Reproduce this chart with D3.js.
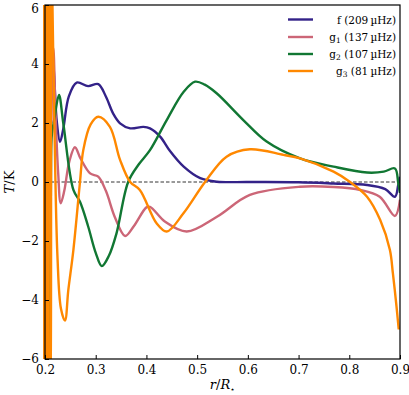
<!DOCTYPE html>
<html><head><meta charset="utf-8">
<script src="https://cdn.jsdelivr.net/npm/d3@7"></script>
<style>body{margin:0;background:#fff} text{font-family:"DejaVu Serif",serif}</style>
</head><body>
<svg id="c" width="409" height="395"></svg>
<script>
const xTicks = [0.2,0.3,0.4,0.5,0.6,0.7,0.8,0.9];
const yTicks = [-6,-4,-2,0,2,4,6];
const seriesNames = ["f", "g1", "g2", "g3"];
const seriesFreq = ["209", "137", "107", "81"];
const seriesColors = ["#332288", "#CC6677", "#117733", "#FF8800"];

const fR = [0.212,0.218,0.2235,0.2296,0.236,0.247,0.2625,0.285,0.305,0.32,0.335,0.348,0.368,0.394,0.407,0.427,0.4465,0.4735,0.506,0.539,0.6,0.7,0.769,0.835,0.871,0.89,0.8965,0.9];
const fT = [5.2,3.6,2.0,1.36,1.8,2.9,3.37,3.25,3.32,2.9,2.3,1.99,1.82,1.87,1.82,1.54,1.05,0.52,0.13,0.01,0.0,-0.01,-0.05,-0.1,-0.24,-0.5,-0.1,0.18];

const g1R = [0.2125,0.2165,0.221,0.226,0.231,0.238,0.248,0.259,0.27,0.289,0.305,0.32,0.338,0.358,0.375,0.4,0.407,0.437,0.4795,0.539,0.604,0.703,0.769,0.822,0.86,0.89,0.9];
const g1T = [2.0,4.54,2.2,0.3,-0.72,-0.3,0.7,1.18,0.8,0.29,0.18,-0.3,-1.2,-1.83,-1.5,-0.86,-0.84,-1.35,-1.68,-1.18,-0.44,-0.16,-0.17,-0.27,-0.5,-1.15,-0.6];

const g2R = [0.2055,0.2085,0.2095,0.2105,0.2115,0.2125,0.2135,0.219,0.2276,0.236,0.256,0.269,0.285,0.3,0.312,0.326,0.341,0.364,0.385,0.407,0.44,0.4735,0.496,0.515,0.539,0.591,0.637,0.703,0.769,0.835,0.868,0.89,0.8965,0.9];
const g2T = [-9,-4.5,-4.4,-3,-0.5,1.3,1.6,2.2,2.95,2.0,-0.27,-0.67,-1.5,-2.4,-2.85,-2.5,-1.74,0.0,0.6,1.08,2.1,3.06,3.4,3.3,3.0,2.1,1.37,0.8,0.52,0.32,0.35,0.46,-0.03,-0.37];

const g3R = [0.1975,0.198,0.1985,0.199,0.1995,0.2,0.2005,0.201,0.2015,0.202,0.2025,0.203,0.2035,0.204,0.2045,0.205,0.2055,0.206,0.2065,0.207,0.2075,0.208,0.2085,0.2115,0.2145,0.2185,0.2245,0.2315,0.2394,0.246,0.256,0.269,0.2755,0.29,0.305,0.328,0.348,0.368,0.387,0.42,0.44,0.473,0.5156,0.558,0.604,0.67,0.703,0.769,0.8016,0.835,0.861,0.88,0.886,0.893,0.8975];
const g3T = [9,-9,9,-9,9,-9,9,-9,9,-9,9,-9,9,-9,9,-9,9,-9,9,-9,9,-9,-9,9,6.2,2.0,-2.5,-4.3,-4.7,-3.66,-2.3,0.0,1.08,1.95,2.21,1.87,0.75,0.0,-0.27,-1.4,-1.68,-1.06,0.0,0.86,1.11,0.92,0.8,0.35,0.0,-0.5,-1.29,-2.3,-3.1,-4.2,-5.0];

const seriesR = [fR, g1R, g2R, g3R];
const seriesT = [fT, g1T, g2T, g3T];

const W = 409, H = 395;
const m = {l:45, r:9, t:5, b:36};
const svg = d3.select("#c");
const x = d3.scaleLinear().domain([0.2,0.9]).range([m.l, W - m.r]);
const y = d3.scaleLinear().domain([-6,6]).range([H - m.b, m.t]);
const font = "DejaVu Serif, serif";

svg.append("defs").append("clipPath").attr("id","clip")
  .append("rect").attr("x", m.l - 2).attr("y", m.t).attr("width", W-m.l-m.r+2).attr("height", H-m.t-m.b);

svg.append("line").attr("x1", x(0.2)).attr("x2", x(0.9)).attr("y1", y(0)).attr("y2", y(0))
  .attr("stroke","#000").attr("stroke-width",0.8).attr("stroke-dasharray","3.5,2");

const line = d3.line().curve(d3.curveCatmullRom.alpha(0.5));
const g = svg.append("g").attr("clip-path","url(#clip)");
seriesNames.forEach((n,i) => {
  const pts = seriesR[i].map((r,j) => [x(r), y(seriesT[i][j])]);
  g.append("path").attr("d", line(pts)).attr("fill","none")
    .attr("stroke", seriesColors[i]).attr("stroke-width", 2.4).attr("stroke-linejoin","round");
});

const xa = svg.append("g").attr("transform",`translate(0,${H-m.b})`)
  .call(d3.axisBottom(x).tickValues(xTicks).tickSize(-4).tickPadding(6).tickFormat(d3.format(".1f")));
const ya = svg.append("g").attr("transform",`translate(${m.l},0)`)
  .call(d3.axisLeft(y).tickValues(yTicks).tickSize(-4).tickPadding(6).tickFormat(d => d < 0 ? "\u2212" + Math.abs(d) : d));
[xa, ya].forEach(a => {
  a.attr("font-family", null).attr("font-size", null);
  a.select(".domain").remove();
  a.selectAll("line").attr("stroke","#000").attr("stroke-width",1);
  a.selectAll("text").style("font-family", font).style("font-size", "12px").attr("fill","#000");
});
ya.selectAll("text").filter(d => d === 6).attr("dy", "0.6em");

svg.append("rect").attr("x", m.l).attr("y", m.t).attr("width", W-m.l-m.r).attr("height", H-m.t-m.b)
  .attr("fill","none").attr("stroke","#000").attr("stroke-width",1.2);

const xl = svg.append("text").attr("x", (m.l + W - m.r)/2).attr("y", 389).attr("text-anchor","middle")
  .style("font-family", font).style("font-size", "13px");
xl.append("tspan").attr("font-style","italic").text("r");
xl.append("tspan").text("/");
xl.append("tspan").attr("font-style","italic").text("R");
xl.append("tspan").attr("font-size", 8).attr("dy", 3).text("\u22C6");

const yl = svg.append("text").attr("transform",`translate(14,${y(0)}) rotate(-90)`).attr("text-anchor","middle")
  .style("font-family", font).style("font-size", "13px");
yl.append("tspan").attr("font-style","italic").text("T");
yl.append("tspan").text("/K");

const ly = [19.5, 37, 54, 71];
seriesNames.forEach((n,i) => {
  svg.append("line").attr("x1", 288).attr("x2", 313).attr("y1", ly[i]).attr("y2", ly[i])
    .attr("stroke", seriesColors[i]).attr("stroke-width", 2.4);
  const t = svg.append("text").attr("x", 396).attr("y", ly[i] + 4).attr("text-anchor","end")
    .style("font-family", font).style("font-size", "10.5px").attr("fill","#000");
  t.append("tspan").text(n[0]);
  if (n.length > 1) t.append("tspan").attr("font-size", 7.5).attr("dy", 2).text(n.slice(1));
  t.append("tspan").attr("dy", n.length > 1 ? -2 : 0).text(" (" + seriesFreq[i] + "\u2009\u00B5Hz)");
});
</script>
</body></html>
